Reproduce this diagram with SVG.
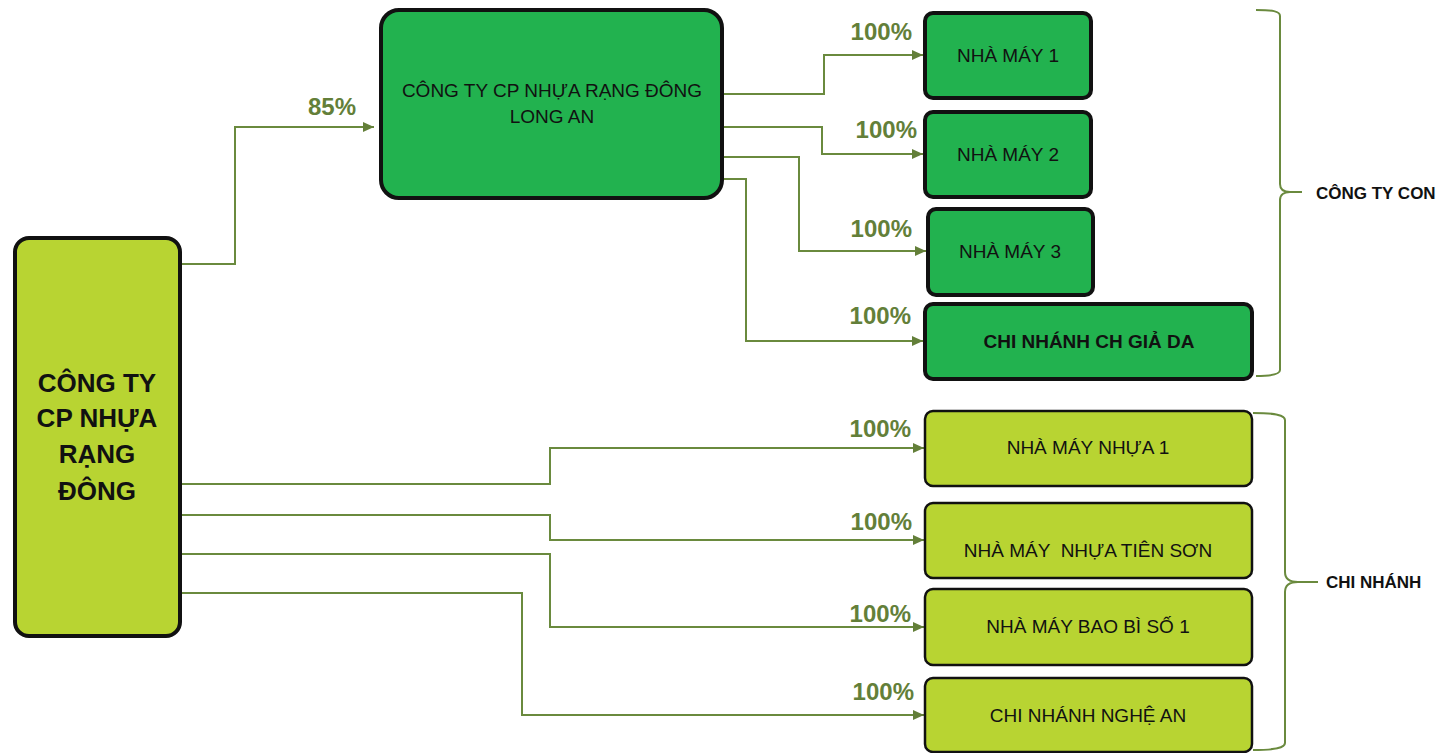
<svg xmlns="http://www.w3.org/2000/svg" width="1442" height="753" viewBox="0 0 1442 753">
<defs>
<marker id="arr" markerUnits="userSpaceOnUse" markerWidth="12" markerHeight="10" refX="11" refY="5" orient="auto">
<path d="M0,0 L11,5 L0,10 Z" fill="#637F39"/>
</marker>
<style>
.dk{fill:#22B24F;stroke:#111;stroke-width:4}
.lt{fill:#B8D432;stroke:#111;stroke-width:2.5}
.main{fill:#B8D432;stroke:#111;stroke-width:4}
.t{font-family:"Liberation Sans",Arial,sans-serif;font-size:19px;fill:#111;text-anchor:middle}
.tb{font-family:"Liberation Sans",Arial,sans-serif;font-weight:bold;fill:#111;text-anchor:middle}
.pct{font-family:"Liberation Sans",Arial,sans-serif;font-weight:bold;font-size:24px;fill:#637F39;text-anchor:end}
.con{fill:none;stroke:#6A8A3E;stroke-width:2;marker-end:url(#arr)}
.br{fill:none;stroke:#6A8A3E;stroke-width:2}
.lbl{font-family:"Liberation Sans",Arial,sans-serif;font-weight:bold;font-size:17px;fill:#111}
</style>
</defs>
<rect width="1442" height="753" fill="#fff"/>
<g id="connectors">
<path class="con" d="M182,264 H235 V127 H374"/>
<path class="con" d="M723,94 H824 V55 H923"/>
<path class="con" d="M723,127 H822 V154 H923"/>
<path class="con" d="M723,157 H799 V251 H926"/>
<path class="con" d="M723,179 H746 V341 H923"/>
<path class="con" d="M182,484 H550 V448 H924"/>
<path class="con" d="M182,515 H550 V540 H924"/>
<path class="con" d="M182,554 H550 V627 H924"/>
<path class="con" d="M182,593 H522 V715 H924"/>
<text class="pct" x="356" y="115">85%</text>
<text class="pct" x="912" y="40">100%</text>
<text class="pct" x="917" y="138">100%</text>
<text class="pct" x="912" y="237">100%</text>
<text class="pct" x="911" y="324">100%</text>
<text class="pct" x="911" y="437">100%</text>
<text class="pct" x="912" y="530">100%</text>
<text class="pct" x="911" y="622">100%</text>
<text class="pct" x="914" y="700">100%</text>
</g>
<g id="main">
<rect class="main" x="15" y="238" width="165" height="398" rx="14"/>
<text class="tb" font-size="26" x="97" y="392">CÔNG TY</text>
<text class="tb" font-size="26" x="97" y="427">CP NHỰA</text>
<text class="tb" font-size="26" x="97" y="463">RẠNG</text>
<text class="tb" font-size="26" x="97" y="500">ĐÔNG</text>
</g>
<g id="longan">
<rect class="dk" x="381" y="10" width="341" height="188" rx="18"/>
<text class="t" x="552" y="97">CÔNG TY CP NHỰA RẠNG ĐÔNG</text>
<text class="t" x="552" y="123">LONG AN</text>
</g>
<g id="nm1">
<rect class="dk" x="925" y="13" width="166" height="85" rx="8"/>
<text class="t" x="1008" y="62">NHÀ MÁY 1</text>
</g>
<g id="nm2">
<rect class="dk" x="925" y="112" width="166" height="85" rx="8"/>
<text class="t" x="1008" y="161">NHÀ MÁY 2</text>
</g>
<g id="nm3">
<rect class="dk" x="928" y="209" width="165" height="86" rx="8"/>
<text class="t" x="1010" y="258">NHÀ MÁY 3</text>
</g>
<g id="giada">
<rect class="dk" x="925" y="304" width="327" height="75" rx="8"/>
<text class="tb" font-size="19" x="1089" y="348">CHI NHÁNH CH GIẢ DA</text>
</g>
<g id="nmn1">
<rect class="lt" x="925" y="411" width="327" height="75" rx="8"/>
<text class="t" x="1088" y="454">NHÀ MÁY NHỰA 1</text>
</g>
<g id="tienson">
<rect class="lt" x="925" y="503" width="327" height="75" rx="8"/>
<text class="t" x="1088" y="557" xml:space="preserve">NHÀ MÁY  NHỰA TIÊN SƠN</text>
</g>
<g id="baobi">
<rect class="lt" x="925" y="589" width="327" height="76" rx="8"/>
<text class="t" x="1088" y="633">NHÀ MÁY BAO BÌ SỐ 1</text>
</g>
<g id="nghean">
<rect class="lt" x="925" y="678" width="327" height="74" rx="8"/>
<text class="t" x="1088" y="722">CHI NHÁNH NGHỆ AN</text>
</g>
<g id="brace-con">
<path class="br" d="M1256,10 C1272,10 1280,11 1280,16 V184 C1280,190 1284,192 1290,192 H1302 M1290,192 C1284,192 1280,195 1280,200 V370 C1280,374 1272,376 1256,376"/>
<text class="lbl" x="1316" y="199">CÔNG TY CON</text>
</g>
<g id="brace-cn">
<path class="br" d="M1253,413 C1275,413 1285,415 1285,420 V572 C1285,579 1290,582 1298,582 H1318 M1298,582 C1290,582 1285,585 1285,592 V743 C1285,748 1275,750 1253,750"/>
<text class="lbl" x="1326" y="588">CHI NHÁNH</text>
</g>
</svg>
